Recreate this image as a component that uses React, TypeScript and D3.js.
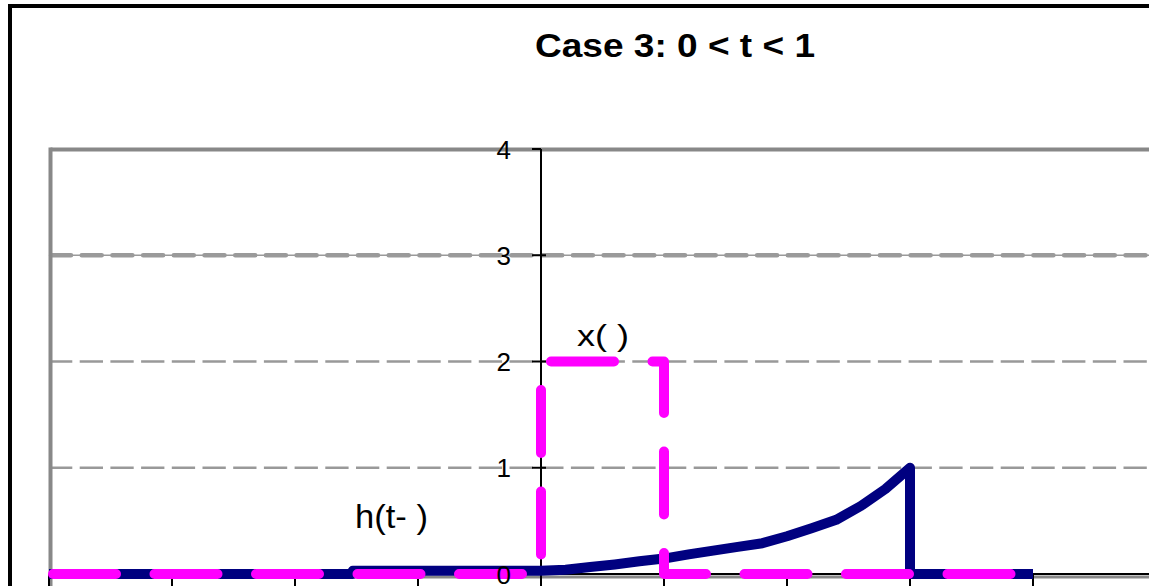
import React from "react";
import * as d3 from "d3";

const TITLE = "Case 3: 0 < t < 1";
const LABEL_X = "x( )";
const LABEL_H = "h(t- )";

// h(t - tau)
const TAU_H = [-4, -1.53, -1.53, 0, 0.2, 0.4, 0.6, 0.8, 1, 1.2, 1.4, 1.6, 1.8, 2.0, 2.2, 2.4, 2.6, 2.8, 3, 3, 4];
const H_VALUES = [0, 0, 0.03, 0.03, 0.04, 0.065, 0.09, 0.12, 0.145, 0.185, 0.22, 0.255, 0.29, 0.355, 0.43, 0.51, 0.64, 0.8, 1.0, 0, 0];

// x(tau)
const TAU_X = [-4, 0, 0, 1, 1, 4];
const X_VALUES = [0, 0, 2, 2, 0, 0];

const Y_TICKS = [0, 1, 2, 3, 4];
const X_TICKS = [-4, -3, -2, -1, 0, 1, 2, 3, 4, 5];

const W = 1149;
const H = 586;
const FONT = "Arial, 'Liberation Sans', sans-serif";

export default function App() {
  const x = d3.scaleLinear().domain([-4, 5]).range([49, 1156]);
  const y = d3.scaleLinear().domain([0, 4]).range([574, 149]);

  const line = d3
    .line<[number, number]>()
    .x((d) => x(d[0]))
    .y((d) => y(d[1]));

  const hPts = TAU_H.map((t, i) => [t, H_VALUES[i]] as [number, number]);
  const xPts = TAU_X.map((t, i) => [t, X_VALUES[i]] as [number, number]);

  const x0 = x(-4);
  const x1 = x(5);
  const yTop = y(4);
  const yAxis = y(0);

  return (
    <svg
      width={W}
      height={H}
      style={{ position: "absolute", left: 0, top: 0, background: "#fff" }}
      fontFamily={FONT}
    >
      <rect x={0} y={0} width={W} height={H} fill="#fff" />
      {/* outer frame */}
      <rect x={10} y={6} width={W + 20} height={H + 20} fill="none" stroke="#000" strokeWidth={4} />

      {/* title */}
      <text x={535} y={57} fontSize={34} fontWeight="bold" textLength={280} lengthAdjust="spacingAndGlyphs">
        {TITLE}
      </text>

      {/* gridlines */}
      {Y_TICKS.filter((v) => v > 0 && v < 4).map((v) =>
        v === 3 ? (
          <g key={v}>
            <line x1={x0} x2={x1} y1={y(v)} y2={y(v)} stroke="#9a9a9a" strokeWidth={1.5} />
            <line
              x1={x0 + 2}
              x2={x1}
              y1={y(v)}
              y2={y(v)}
              stroke="#9a9a9a"
              strokeWidth={4.5}
              strokeDasharray="20 10.7"
              strokeLinecap="round"
            />
          </g>
        ) : (
          <line
            key={v}
            x1={x0}
            x2={x1}
            y1={y(v)}
            y2={y(v)}
            stroke="#999"
            strokeWidth={2.5}
            strokeDasharray="23.3 7.4"
          />
        )
      )}

      {/* plot area border (gray) */}
      <line x1={50.5} x2={x1} y1={149.5} y2={149.5} stroke="#888" strokeWidth={4} />
      <line x1={50.5} x2={50.5} y1={147.5} y2={H + 5} stroke="#888" strokeWidth={4} />
      <line x1={x0} x2={x1} y1={577} y2={577} stroke="#888" strokeWidth={3} />

      {/* x axis */}
      <line x1={x0} x2={x1} y1={yAxis} y2={yAxis} stroke="#000" strokeWidth={2} />
      {X_TICKS.map((t) => (
        <line key={t} x1={x(t)} x2={x(t)} y1={yAxis} y2={yAxis + 14} stroke="#000" strokeWidth={2} />
      ))}

      {/* y axis */}
      <line x1={x(0)} x2={x(0)} y1={yTop} y2={yAxis} stroke="#000" strokeWidth={2} />
      {Y_TICKS.map((v) => (
        <line
          key={v}
          x1={x(0) - 9}
          x2={v === 4 ? x(0) : x(0) + 5}
          y1={y(v)}
          y2={y(v)}
          stroke="#000"
          strokeWidth={2}
        />
      ))}

      {/* series */}
      <path
        d={line(hPts) || ""}
        fill="none"
        stroke="#000080"
        strokeWidth={10}
        strokeLinejoin="round"
      />
      <path
        d={line(xPts) || ""}
        fill="none"
        stroke="#ff00ff"
        strokeWidth={10}
        strokeLinejoin="round"
        strokeLinecap="round"
        strokeDasharray="63 38.5"
        strokeDashoffset={97.5}
      />

      {/* tick labels */}
      {Y_TICKS.map((v) => (
        <text key={v} x={511} y={y(v) + 9.5} fontSize={26} textAnchor="end" fill="#000">
          {String(v)}
        </text>
      ))}

      {/* labels */}
      <text x={577} y={346} fontSize={30} textLength={52} lengthAdjust="spacingAndGlyphs">
        {LABEL_X}
      </text>
      <text x={355} y={528} fontSize={34} textLength={73} lengthAdjust="spacingAndGlyphs">
        {LABEL_H}
      </text>
    </svg>
  );
}
